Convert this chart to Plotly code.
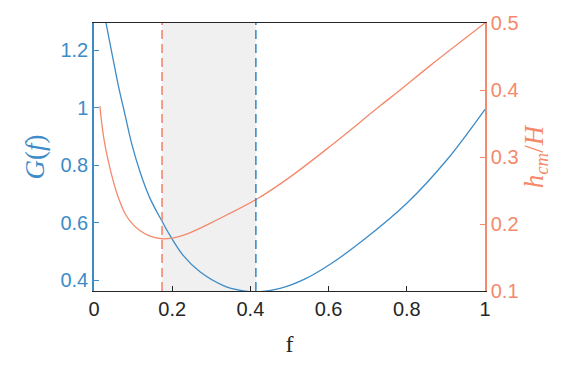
import plotly.graph_objects as go

# ---- data ----
f_G = [0.020, 0.030, 0.048, 0.062, 0.079, 0.096, 0.118, 0.143, 0.173, 0.194, 0.228,
       0.271, 0.331, 0.375, 0.414, 0.476, 0.540, 0.604, 0.689, 0.800, 0.900, 1.000]
G_vals = [1.37, 1.30, 1.175, 1.079, 0.978, 0.877, 0.776, 0.686, 0.608, 0.557, 0.487,
          0.430, 0.382, 0.365, 0.360, 0.372, 0.405, 0.456, 0.540, 0.668, 0.815, 0.995]

f_h = [0.015, 0.021, 0.028, 0.041, 0.055, 0.0665, 0.080, 0.100, 0.118, 0.143, 0.174, 0.200,
       0.237, 0.314, 0.416, 0.501, 0.604, 0.731, 0.783, 0.859, 1.000]
h_vals = [0.376, 0.345, 0.318, 0.283, 0.252, 0.233, 0.215, 0.199, 0.190, 0.182, 0.178, 0.179,
          0.185, 0.206, 0.237, 0.270, 0.316, 0.376, 0.400, 0.436, 0.500]

f_hmin = 0.174   # minimum of h_cm/H (orange dashed)
f_Gmin = 0.414   # minimum of G(f) (blue dashed)

x_ticks = [0, 0.2, 0.4, 0.6, 0.8, 1]
G_ticks = [0.4, 0.6, 0.8, 1, 1.2]
h_ticks = [0.1, 0.2, 0.3, 0.4, 0.5]
G_range = [0.363, 1.295]
h_range = [0.1, 0.5]

BLUE = "#3d8cc8"
ORANGE = "#f4896b"
DARK = "#262626"

fig = go.Figure()

fig.add_trace(go.Scatter(x=f_G, y=G_vals, mode="lines", yaxis="y",
                         line=dict(color=BLUE, width=1.3, shape="spline", smoothing=1.0),
                         showlegend=False, hoverinfo="skip"))
fig.add_trace(go.Scatter(x=f_h, y=h_vals, mode="lines", yaxis="y2",
                         line=dict(color=ORANGE, width=1.3, shape="spline", smoothing=1.0),
                         showlegend=False, hoverinfo="skip"))

# shaded band and dashed lines
fig.add_shape(type="rect", xref="x", yref="paper", x0=f_hmin, x1=f_Gmin, y0=0, y1=1,
              fillcolor="#f0f0f0", line=dict(width=0), layer="below")
fig.add_shape(type="line", xref="x", yref="paper", x0=f_hmin, x1=f_hmin, y0=0, y1=1,
              line=dict(color=ORANGE, width=1.6, dash="9px,5px"))
fig.add_shape(type="line", xref="x", yref="paper", x0=f_Gmin, x1=f_Gmin, y0=0, y1=1,
              line=dict(color=BLUE, width=1.6, dash="9px,5px"))

tick_font = "Liberation Sans, Arial, sans-serif"
serif = "Liberation Serif, DejaVu Serif, serif"

fig.update_layout(
    width=573, height=365,
    margin=dict(l=94, r=88, t=19, b=69),
    paper_bgcolor="white", plot_bgcolor="white",
    xaxis=dict(range=[0, 1], tickvals=x_ticks, ticks="inside", ticklen=5,
               tickcolor=DARK, showline=True, linecolor=DARK, linewidth=1.2,
               mirror=True, showgrid=False, zeroline=False,
               tickfont=dict(family=tick_font, size=20, color=DARK),
               title=dict(text="f", font=dict(family=serif, size=24, color=DARK), standoff=16)),
    yaxis=dict(range=G_range, tickvals=G_ticks, ticks="inside", ticklen=5,
               tickcolor=BLUE, showline=True, linecolor=BLUE, linewidth=1.5,
               showgrid=False, zeroline=False,
               tickfont=dict(family=tick_font, size=20, color=BLUE),
               title=dict(text="<i>G</i>(<i>f</i>)", font=dict(family=serif, size=27, color=BLUE),
                          standoff=8)),
    yaxis2=dict(range=h_range, tickvals=h_ticks, ticks="inside", ticklen=5,
                tickcolor=ORANGE, showline=True, linecolor=ORANGE, linewidth=1.5,
                overlaying="y", side="right", showgrid=False, zeroline=False,
                tickfont=dict(family=tick_font, size=20, color=ORANGE),
                title=dict(text="<i>h</i><sub><i>cm</i></sub>/<i>H</i>",
                           font=dict(family=serif, size=27, color=ORANGE), standoff=6)),
)

fig.write_html("out.html")
